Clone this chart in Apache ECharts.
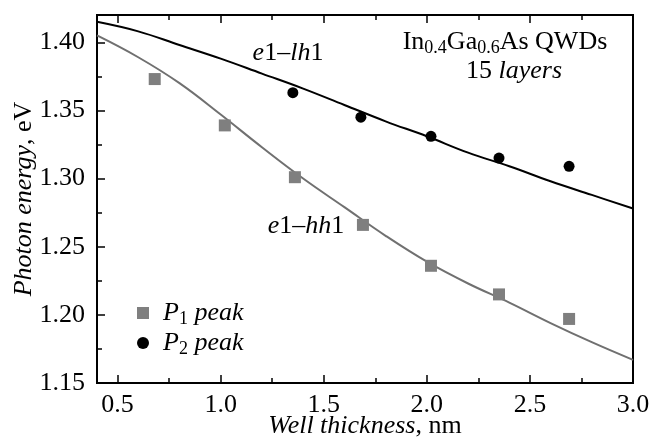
<!DOCTYPE html>
<html><head><meta charset="utf-8">
<script src="https://cdn.jsdelivr.net/npm/echarts@6/dist/echarts.min.js"></script>
<style>html,body{margin:0;padding:0;background:#fff}#c{width:650px;height:444px}</style>
</head><body><div id="c"></div>
<script>
// ---- data ----
const p1X = [0.68, 1.02, 1.36, 1.69, 2.02, 2.35, 2.69];
const p1Y = [1.373, 1.339, 1.301, 1.266, 1.236, 1.215, 1.197];
const p2X = [1.35, 1.68, 2.02, 2.35, 2.69];
const p2Y = [1.363, 1.345, 1.331, 1.315, 1.309];
const curveX = [0.4, 0.6, 0.8, 1.0, 1.2, 1.4, 1.6, 1.8, 2.0, 2.2, 2.4, 2.6, 2.8, 3.0];
const lhY = [1.415, 1.408, 1.398, 1.388, 1.377, 1.366, 1.354, 1.342, 1.331, 1.319, 1.309, 1.298, 1.288, 1.278];
const hhY = [1.405, 1.389, 1.370, 1.347, 1.323, 1.300, 1.279, 1.258, 1.239, 1.223, 1.209, 1.194, 1.180, 1.167];
const xMajor = [0.5, 1.0, 1.5, 2.0, 2.5, 3.0];
const xMinor = [0.75, 1.25, 1.75, 2.25, 2.75];
const yMajor = [1.15, 1.20, 1.25, 1.30, 1.35, 1.40];
const yMinor = [1.175, 1.225, 1.275, 1.325, 1.375];
const xRange = [0.4, 3.0];
const yRange = [1.15, 1.42];

const zip = (a, b) => a.map((v, i) => [v, b[i]]);
const FONT = '"Liberation Serif", "Times New Roman", serif';
const FS = 26;

const chart = echarts.init(document.getElementById('c'), null, {renderer: 'canvas'});

function xAx(pos, ticks, len, labels, extra) {
  return Object.assign({
    type: 'value', position: pos, min: xRange[0], max: xRange[1],
    axisLine: {show: false},
    splitLine: {show: false},
    axisTick: {show: true, inside: true, length: len, customValues: ticks, lineStyle: {color: '#000', width: 1.5}},
    axisLabel: labels ? {show: true, customValues: ticks, formatter: v => v.toFixed(1), fontFamily: FONT, fontSize: FS, color: '#000', margin: 9} : {show: false}
  }, extra || {});
}
function yAx(ticks, len, labels, extra) {
  return Object.assign({
    type: 'value', position: 'left', min: yRange[0], max: yRange[1],
    axisLine: {show: false},
    splitLine: {show: false},
    axisTick: {show: true, inside: true, length: len, customValues: ticks, lineStyle: {color: '#000', width: 1.5}},
    axisLabel: labels ? {show: true, customValues: ticks, formatter: v => v.toFixed(2), fontFamily: FONT, fontSize: FS, color: '#000', margin: 12} : {show: false}
  }, extra || {});
}

const italic = {fontFamily: FONT, fontSize: FS, fontStyle: 'italic', color: '#000', lineHeight: 30};
const upright = {fontFamily: FONT, fontSize: FS, color: '#000', lineHeight: 30};
const sub = {fontFamily: FONT, fontSize: 18, color: '#000', lineHeight: 18, padding: [12, 0, 0, 0]};

const option = {
  animation: false,
  backgroundColor: '#fff',
  grid: {left: 97, right: 17, top: 15, bottom: 61, containLabel: false, outerBoundsMode: 'none',
         show: true, borderColor: '#000', borderWidth: 2, backgroundColor: 'transparent'},
  xAxis: [
    xAx('bottom', xMajor, 8, true, {
      name: '{i|Well thickness}{r|, nm}', nameLocation: 'middle', nameGap: 28, nameMoveOverlap: false,
      nameTextStyle: {rich: {i: italic, r: upright}}
    }),
    xAx('bottom', xMinor, 5, false),
    xAx('top', xMajor, 8, false),
    xAx('top', xMinor, 5, false)
  ],
  yAxis: [
    yAx(yMajor, 8, true, {
      name: '{i|Photon energy}{r|, eV}', nameLocation: 'middle', nameGap: 58, nameRotate: 90, nameMoveOverlap: false,
      nameTextStyle: {rich: {i: italic, r: upright}}
    }),
    yAx(yMinor, 5, false)
  ],
  legend: {
    orient: 'vertical', left: 137, top: 298, padding: 0, itemGap: 0,
    itemWidth: 12, itemHeight: 12,
    data: [{name: 'P1', icon: 'rect'}, {name: 'P2', icon: 'circle'}],
    formatter: n => n === 'P1' ? '{p|P}{s|1}{i| peak}' : '{p|P}{s|2}{i| peak}',
    textStyle: {rich: {p: Object.assign({}, italic, {padding: [0, 0, 0, 9]}), i: italic, s: sub}}
  },
  graphic: [
    {type: 'text', x: 288, y: 53, style: {text: '{i|e}{r|1–}{i|lh}{r|1}', rich: {i: italic, r: upright}, align: 'center', verticalAlign: 'middle'}},
    {type: 'text', x: 306, y: 226, style: {text: '{i|e}{r|1–}{i|hh}{r|1}', rich: {i: italic, r: upright}, align: 'center', verticalAlign: 'middle'}},
    {type: 'text', x: 505, y: 42, style: {text: '{r|In}{s|0.4}{r|Ga}{s|0.6}{r|As QWDs}', rich: {r: upright, s: sub}, align: 'center', verticalAlign: 'middle'}},
    {type: 'text', x: 514, y: 71, style: {text: '{r|15 }{i|layers}', rich: {r: upright, i: italic}, align: 'center', verticalAlign: 'middle'}}
  ],
  series: [
    {name: 'e1-lh1', type: 'line', data: zip(curveX, lhY), smooth: 0.4, symbol: 'none', lineStyle: {color: '#000', width: 2}, z: 2},
    {name: 'e1-hh1', type: 'line', data: zip(curveX, hhY), smooth: 0.4, symbol: 'none', lineStyle: {color: '#707070', width: 2}, z: 2},
    {name: 'P1', type: 'scatter', data: zip(p1X, p1Y), symbol: 'rect', symbolSize: 12, itemStyle: {color: '#7f7f7f', opacity: 1}, z: 3},
    {name: 'P2', type: 'scatter', data: zip(p2X, p2Y), symbol: 'circle', symbolSize: 11, itemStyle: {color: '#000', opacity: 1}, z: 3}
  ]
};
chart.setOption(option);
</script></body></html>
